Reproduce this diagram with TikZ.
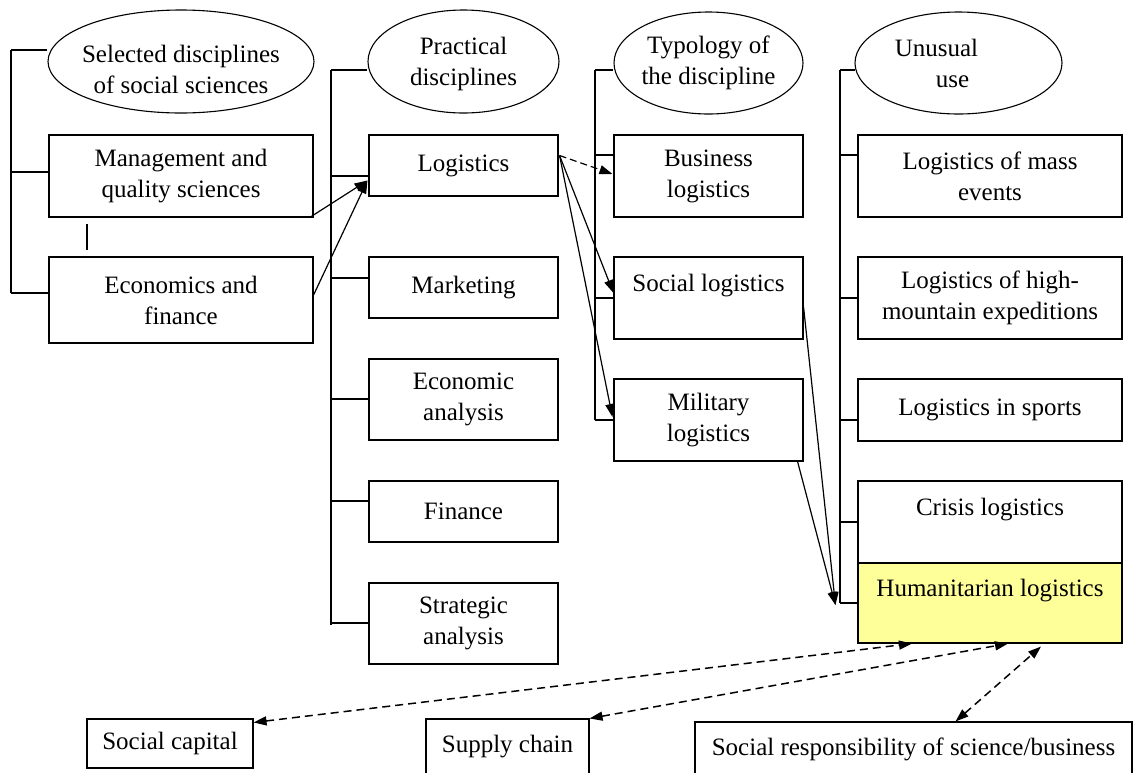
\documentclass[tikz,border=0pt]{standalone}
\usepackage{fontspec}
\setmainfont{Liberation Serif}
\usetikzlibrary{shapes.geometric,arrows.meta,calc}
\newcommand\figfont{\fontsize{25}{31}\selectfont}
\definecolor{humyellow}{RGB}{255,255,153}
\begin{document}
\begin{tikzpicture}[x=1pt,y=-1pt,
  box/.style={draw, line width=1.1pt, rectangle, inner sep=0pt, align=center, font=\figfont},
  oval/.style={draw, line width=1.1pt, ellipse, inner sep=0pt},
  lbl/.style={inner sep=0pt, align=center, font=\figfont},
  tree/.style={line width=1.1pt},
  arr/.style={line width=1.2pt, -{Triangle[length=13pt,width=9pt]}},
  dsh/.style={dash pattern=on 7pt off 4pt},
  darr/.style={line width=1.5pt, dash pattern=on 8pt off 5pt,
    {Triangle[length=13pt,width=9pt]}-{Triangle[length=13pt,width=9pt]}}]
\useasboundingbox (0,0) rectangle (1134,772);
\clip (0,0) rectangle (1134,772);

% ellipses
\node[oval, minimum width=266pt, minimum height=103pt] (sel) at (181,61.5) {};
\node[lbl] (selt) at ($(sel.center)+(0,8)$) {Selected disciplines\\of social sciences};
\node[oval, minimum width=191pt, minimum height=103pt] (prac) at (463.5,61.5) {};
\node[lbl] (pract) at ($(prac.center)+(0,2)$) {Practical\\disciplines};
\node[oval, minimum width=189pt, minimum height=102pt] (typo) at (708.5,63) {};
\node[lbl] (typot) at (typo.center) {Typology of\\the discipline};
\node[oval, minimum width=207pt, minimum height=102pt] (unus) at (958.5,63) {};
\node[lbl] (unust) at (unus.center) {Unusual\hspace*{44pt}\\use\hspace*{12pt}};

% column 1
\node[box, minimum width=264pt, minimum height=82pt] (mgmt) at (181,176) {Management and\\quality sciences};
\node[box, minimum width=264pt, minimum height=86pt] (econ) at (181,300) {Economics and\\finance};

% column 2
\node[box, minimum width=189pt, minimum height=61pt] (logi) at (463.5,165.5) {Logistics};
\node[box, minimum width=189pt, minimum height=61pt] (mark) at (463.5,287.5) {Marketing};
\node[box, minimum width=189pt, minimum height=81pt] (ecan) at (463.5,399.5) {Economic\\analysis};
\node[box, minimum width=189pt, minimum height=61pt] (fin) at (463.5,511.5) {Finance};
\node[box, minimum width=189pt, minimum height=81pt] (stra) at (463.5,623.5) {Strategic\\analysis};

% column 3
\node[box, minimum width=189pt, minimum height=82pt] (biz) at (708.5,176) {Business\\logistics};
\node[box, minimum width=189pt, minimum height=82pt] (soc) at (708.5,298) {Social logistics\\\mbox{}};
\node[box, minimum width=189pt, minimum height=82pt] (mil) at (708.5,420) {Military\\logistics};

% column 4
\node[box, minimum width=264pt, minimum height=82pt] (mass) at (990,176) {Logistics of mass\\events};
\node[box, minimum width=264pt, minimum height=82pt] (mount) at (990,298) {Logistics of high-\\mountain expeditions};
\node[box, minimum width=264pt, minimum height=62pt] (sport) at (990,410) {Logistics in sports};
\node[box, minimum width=264pt, minimum height=82pt] (cris) at (990,522) {Crisis logistics\\\mbox{}};
\node[box, fill=humyellow, minimum width=264pt, minimum height=80pt] (hum) at (990,603) {Humanitarian logistics\\\mbox{}};

% bottom
\node[box, minimum width=166pt, minimum height=49pt] (scap) at (170,743.5) {Social capital};
\node[box, minimum width=163pt, minimum height=56pt] (supp) at (507.5,747) {Supply chain};
\node[box, minimum width=437pt, minimum height=54pt] (sresp) at (913.5,749) {Social responsibility of science/business};

% tree brackets
\draw[tree] (11,50) -- (sel.west |- 0,50);
\draw[tree] (11,50) -- (11,293);
\foreach \n/\yy in {mgmt/172, econ/293}
  \draw[tree] (11,\yy) -- (\n.west |- 0,\yy);
\draw[tree] (87,224) -- (87,250);

\draw[tree] (331,70) -- (prac.west |- 0,70);
\draw[tree] (331,70) -- (331,625);
\foreach \n/\yy in {logi/176, mark/278, ecan/399, fin/501, stra/623}
  \draw[tree] (331,\yy) -- (\n.west |- 0,\yy);

\draw[tree] (595,70) -- (typo.west |- 0,70);
\draw[tree] (595,70) -- (595,420);
\foreach \n/\yy in {biz/155, soc/298, mil/420}
  \draw[tree] (595,\yy) -- (\n.west |- 0,\yy);

\draw[tree] (840,70) -- ($(unus.west |- 0,70)+(1,0)$);
\draw[tree] (840,70) -- (840,603);
\foreach \n/\yy in {mass/155, mount/298, sport/420, cris/522, hum/603}
  \draw[tree] (840,\yy) -- (\n.west |- 0,\yy);

% arrows
\coordinate (lin) at ($(logi.west)+(-1,15)$);
\draw[arr] ($(mgmt.south east)+(-4,0)$) -- (lin);
\draw[arr] ($(econ.east)+(0,-5)$) -- (lin);
\coordinate (lout) at ($(logi.east)+(1,-10)$);
\draw[arr, dsh] (lout) -- ($(biz.west)+(-1,-2)$);
\draw[arr] (lout) -- ($(soc.west)+(0,-5)$);
\draw[arr] (lout) -- ($(mil.west)+(-1,-3)$);
\coordinate (hin) at ($(hum.west)+(-22,2)$);
\draw[arr] ($(soc.east)+(0,9)$) -- (hin);
\draw[arr] ($(mil.south east)+(-6,0)$) -- (hin);

% dashed double arrows
\draw[darr] ($(scap.north east)+(0,4)$) -- ($(hum.south)+(-78,0)$);
\draw[darr] (supp.north east) -- ($(hum.south)+(18,0)$);
\draw[darr] ($(sresp.north)+(42,0)$) -- ($(hum.south)+(51,3)$);
\end{tikzpicture}
\end{document}
